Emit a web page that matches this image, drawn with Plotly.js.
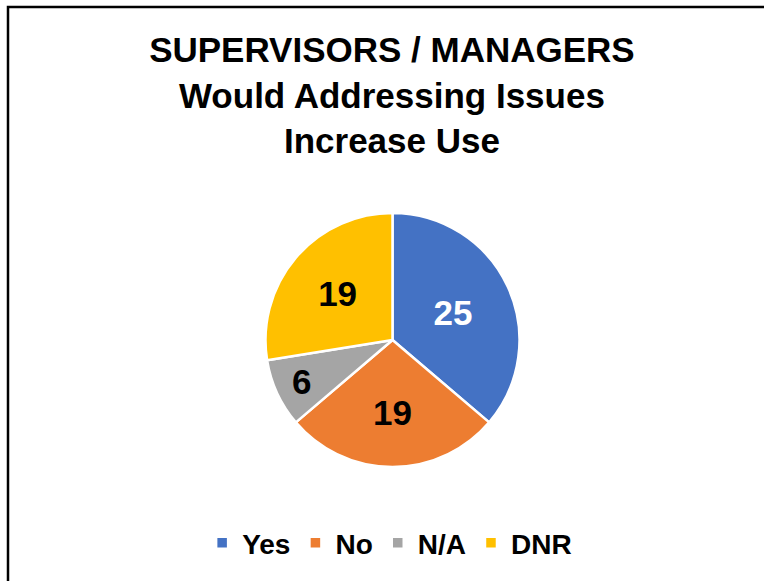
<!DOCTYPE html>
<html>
<head>
<meta charset="utf-8">
<script src="https://cdn.plot.ly/plotly-3.0.1.min.js"></script>
<style>
html,body{margin:0;padding:0;background:#fff;}
#chart{width:764px;height:581px;}
</style>
</head>
<body>
<div id="chart"></div>
<script>
const categories = ["Yes", "No", "N/A", "DNR"];
const values = [25, 19, 6, 19];
const sliceColors = ["#4472C4", "#ED7D31", "#A5A5A5", "#FFC000"];
const labelColors = ["#FFFFFF", "#000000", "#000000", "#000000"];
const titleLines = ["SUPERVISORS / MANAGERS", "Would Addressing Issues", "Increase Use"];

const W = 764, H = 581;
const cx = 392.5, cy = 340, R = 127;

const font = "Arial, 'Liberation Sans', sans-serif";

const trace = {
  type: "pie",
  labels: categories,
  values: values,
  sort: false,
  direction: "clockwise",
  rotation: 0,
  marker: { colors: sliceColors, line: { color: "#FFFFFF", width: 2.5 } },
  textinfo: "value",
  textposition: "inside",
  insidetextorientation: "horizontal",
  textfont: { family: font, size: 35, color: labelColors, weight: "bold" },
  hoverinfo: "label+value",
  domain: {
    x: [(cx - R) / W, (cx + R) / W],
    y: [1 - (cy + R) / H, 1 - (cy - R) / H]
  }
};

const layout = {
  width: W,
  height: H,
  margin: { l: 0, r: 0, t: 0, b: 0 },
  paper_bgcolor: "#FFFFFF",
  font: { family: font, color: "#000000" },
  title: {
    text: titleLines.join("<br>"),
    font: { family: font, size: 35, color: "#000000", weight: "bold" },
    x: 0.513,
    xanchor: "center",
    xref: "paper",
    yref: "container",
    y: 1 - 62 / H,
    yanchor: "top"
  },
  showlegend: true,
  legend: {
    orientation: "h",
    x: 0.51,
    xanchor: "center",
    y: 1 - 543 / H,
    yanchor: "middle",
    font: { family: font, size: 28, color: "#000000", weight: "bold" },
    itemwidth: 30,
    traceorder: "normal"
  },
  shapes: [
    {
      type: "rect", xref: "paper", yref: "paper",
      x0: 8 / W, x1: 1.1, y0: -0.1, y1: 1 - 7 / H,
      line: { color: "#000000", width: 2.5 },
      fillcolor: "rgba(0,0,0,0)",
      layer: "above"
    }
  ]
};

Plotly.newPlot("chart", [trace], layout, { displayModeBar: false, staticPlot: true });
</script>
</body>
</html>
